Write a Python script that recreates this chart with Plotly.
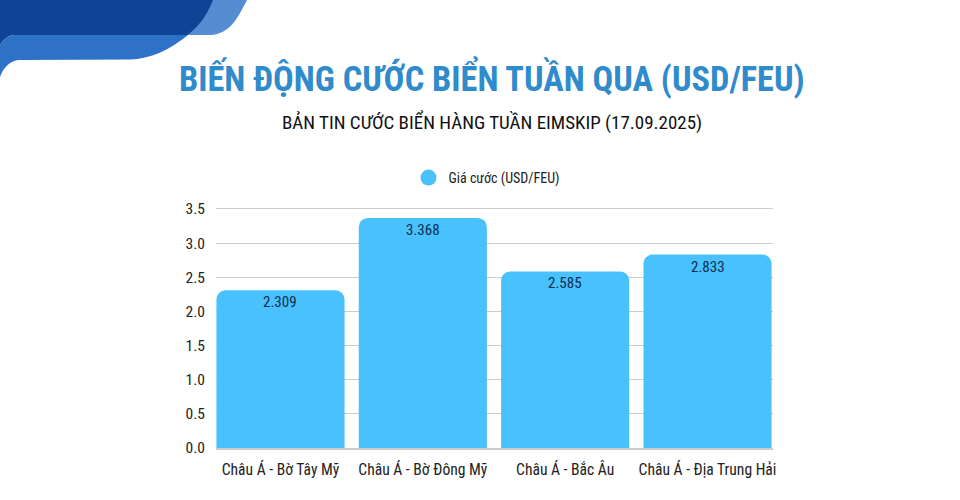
import plotly.graph_objects as go

# chart data
categories = ['Châu Á - Bờ Tây Mỹ', 'Châu Á - Bờ Đông Mỹ', 'Châu Á - Bắc Âu', 'Châu Á - Địa Trung Hải']
freight = [2.309, 3.368, 2.585, 2.833]
freight_labels = ['2.309', '3.368', '2.585', '2.833']
y_ticks = [0, 0.5, 1, 1.5, 2, 2.5, 3, 3.5]
y_tick_labels = ['0.0', '0.5', '1.0', '1.5', '2.0', '2.5', '3.0', '3.5']

W, H = 960, 500
FONT = 'Roboto Condensed'


# page pixels to paper fractions, so the decoration can be drawn like in the image
def px(x):
    return x / W


def py(y):
    return 1 - y / H


def banner(points):
    out = []
    for cmd, coords in points:
        pairs = [f'{px(coords[i])},{py(coords[i + 1])}' for i in range(0, len(coords), 2)]
        out.append(cmd + ' ' + ' '.join(pairs))
    return ' '.join(out) + ' Z'


light_band = banner([('M', (150, 0)), ('L', (247, 0)), ('C', (238, 17, 231, 34, 210, 35)), ('L', (150, 35))])
dark_band = banner([('M', (0, 0)), ('L', (213, 0)), ('C', (206, 18, 197, 28, 186, 36)), ('L', (15, 35)),
                    ('C', (8, 35, 3, 40, 0, 45))])
mid_band = banner([('M', (0, 45)), ('C', (3, 40, 8, 35, 15, 35)), ('L', (188, 35)), ('C', (170, 50, 150, 59, 130, 59.5)),
                   ('L', (20, 60)), ('C', (10, 60, 3, 68, 0, 77))])

fig = go.Figure()

fig.add_trace(go.Bar(x=categories, y=freight,
                     marker=dict(color='#48C1FD', line=dict(width=0)),
                     showlegend=False, hoverinfo='skip'))

# legend entry only, the legend needs a round marker
fig.add_trace(go.Scatter(x=[categories[0]], y=[None], mode='markers', name='Giá cước (USD/FEU)',
                         marker=dict(color='#48C1FD', size=16, symbol='circle')))

# value labels sit just under the bar top
for cat, val, label in zip(categories, freight, freight_labels):
    fig.add_annotation(x=cat, y=val, text=label, yshift=-12, yanchor='middle', showarrow=False,
                       font=dict(family=FONT, size=15, color='#0B2E4F'))

fig.add_annotation(text='<b>BIẾN ĐỘNG CƯỚC BIỂN TUẦN QUA (USD/FEU)</b>', xref='paper', yref='paper',
                   x=px(492), y=py(77), xanchor='center', yanchor='middle', showarrow=False,
                   font=dict(family=FONT, size=34.3, color='#2F8BCB'))
fig.add_annotation(text='BẢN TIN CƯỚC BIỂN HÀNG TUẦN EIMSKIP (17.09.2025)', xref='paper', yref='paper',
                   x=px(492), y=py(122), xanchor='center', yanchor='middle', showarrow=False,
                   font=dict(family=FONT, size=19, color='#111111'))

fig.update_layout(
    width=W, height=H,
    margin=dict(l=0, r=0, t=0, b=0),
    paper_bgcolor='white',
    plot_bgcolor='white',
    font=dict(family=FONT, color='#1A1A1A'),
    bargap=0.1,
    barcornerradius=9,
    showlegend=True,
    legend=dict(orientation='h', x=px(487), xanchor='center', y=py(178), yanchor='middle',
                font=dict(family=FONT, size=14, color='#222222')),
    xaxis=dict(domain=[px(216), px(773)], range=[-0.453, 3.46], showgrid=False, showline=True,
               linecolor='#CCCCCC', linewidth=2, ticks='outside', ticklen=6, tickcolor='rgba(0,0,0,0)',
               tickangle=0, tickfont=dict(family=FONT, size=15.6, color='#222222'), automargin=False),
    # range goes a bit over 3.5, a gridline right on the edge gets dropped
    yaxis=dict(domain=[py(448), py(206.9)], range=[0, 3.53], tickvals=y_ticks, ticktext=y_tick_labels,
               showgrid=True, gridcolor='#CCCCCC', gridwidth=1, zeroline=False,
               ticks='outside', ticklen=7, tickcolor='rgba(0,0,0,0)',
               tickfont=dict(family=FONT, size=15.5, color='#222222'), automargin=False),
    shapes=[dict(type='path', xref='paper', yref='paper', path=light_band, fillcolor='#558DD3', line_width=0, layer='below'),
            dict(type='path', xref='paper', yref='paper', path=dark_band, fillcolor='#0F4396', line_width=0, layer='below'),
            dict(type='path', xref='paper', yref='paper', path=mid_band, fillcolor='#2E72C8', line_width=0, layer='below')],
)

fig.write_html('out.html', config={'displayModeBar': False}, post_script="document.body.style.margin='0';")
